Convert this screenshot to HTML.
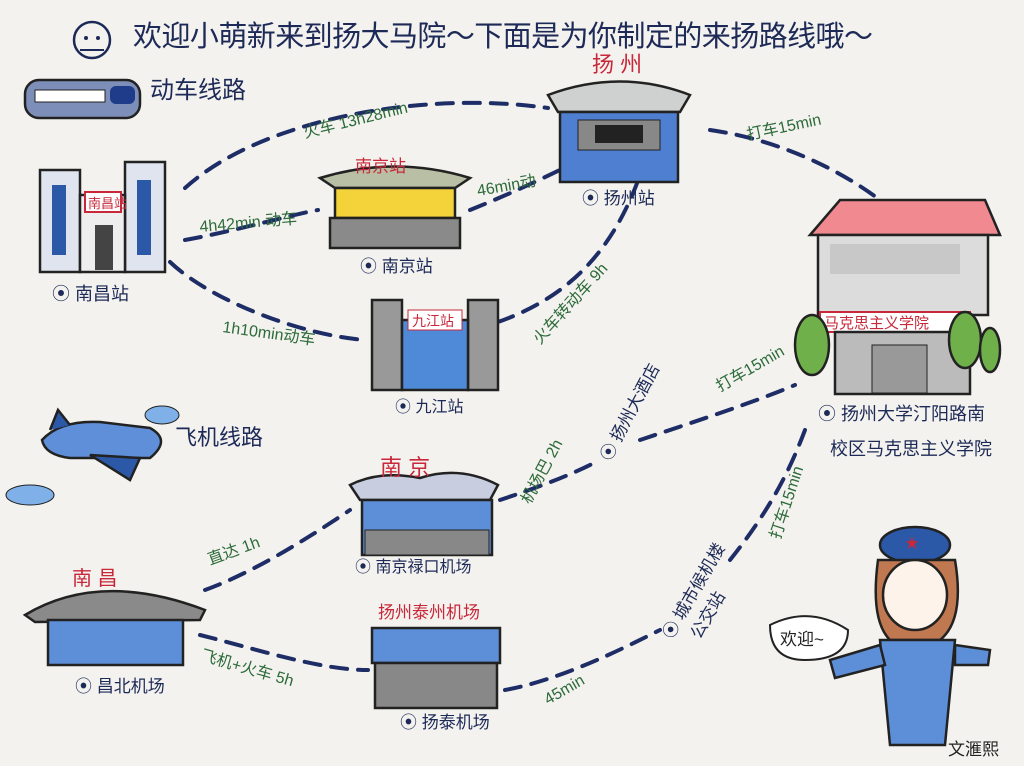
<!DOCTYPE html>
<html><head><meta charset="utf-8"><style>
html,body{margin:0;padding:0;background:#f3f2ee;}
svg{display:block}
text{font-family:"Liberation Sans","Noto Sans CJK SC",sans-serif;}
.t{fill:#1d2a57}
.g{fill:#2d6b3a}
.r{fill:#c8283a}
.d{stroke:#1e2d66;stroke-width:4;fill:none;stroke-dasharray:16 11;stroke-linecap:round}
.o{stroke:#222;stroke-width:2.5}
</style></head><body>
<svg width="1024" height="766" viewBox="0 0 1024 766" xmlns="http://www.w3.org/2000/svg">
<rect width="1024" height="766" fill="#f3f2ee"/>
<!-- title -->
<circle cx="92" cy="40" r="18" fill="none" stroke="#1d2a57" stroke-width="2.5"/>
<circle cx="86" cy="38" r="2" fill="#1d2a57"/><circle cx="98" cy="38" r="2" fill="#1d2a57"/>
<path d="M80 50 L104 50" stroke="#1d2a57" stroke-width="2"/>
<text x="133" y="46" font-size="29" class="t" textLength="740">欢迎小萌新来到扬大马院～下面是为你制定的来扬路线哦～</text>

<!-- dashed routes -->
<path class="d" d="M185 188 C260 120 420 90 548 108"/>
<path class="d" d="M185 240 C240 230 290 215 318 210"/>
<path class="d" d="M470 210 C520 190 560 170 580 160"/>
<path class="d" d="M170 262 C210 300 300 335 365 340"/>
<path class="d" d="M498 322 C560 300 610 260 640 175"/>
<path class="d" d="M710 130 C780 140 840 170 880 200"/>
<path class="d" d="M500 500 C560 480 580 470 600 460"/>
<path class="d" d="M640 440 C700 420 760 400 795 385"/>
<path class="d" d="M205 590 C260 570 320 530 350 510"/>
<path class="d" d="M200 635 C260 650 320 670 368 670"/>
<path class="d" d="M505 690 C560 680 620 650 660 630"/>
<path class="d" d="M730 560 C770 510 790 470 805 430"/>

<!-- train -->
<rect x="25" y="80" width="115" height="38" rx="14" fill="#7d8fb8" class="o"/>
<rect x="35" y="90" width="70" height="12" fill="#fff" stroke="#222"/>
<rect x="110" y="86" width="25" height="18" rx="6" fill="#1e3c8a"/>
<text x="150" y="98" font-size="24" class="t">动车线路</text>

<!-- Nanchang station -->
<rect x="40" y="170" width="40" height="102" fill="#dfe4ef" class="o"/>
<rect x="125" y="162" width="40" height="110" fill="#dfe4ef" class="o"/>
<rect x="52" y="185" width="14" height="70" fill="#2c58a8"/>
<rect x="137" y="180" width="14" height="75" fill="#2c58a8"/>
<rect x="80" y="195" width="45" height="77" fill="#eee" class="o"/>
<rect x="85" y="192" width="36" height="20" fill="#fff" stroke="#c8283a" stroke-width="2"/>
<text x="88" y="208" font-size="13" class="r">南昌站</text>
<rect x="95" y="225" width="18" height="45" fill="#444"/>
<text x="52" y="300" font-size="18" class="t">⦿ 南昌站</text>

<!-- Nanjing station -->
<path d="M320 178 Q395 155 470 178 L455 188 L335 188 Z" fill="#b9bfa4" class="o"/>
<rect x="335" y="188" width="120" height="30" fill="#f3d23a" class="o"/>
<rect x="330" y="218" width="130" height="30" fill="#8a8a8a" class="o"/>
<text x="355" y="172" font-size="17" class="r">南京站</text>
<text x="360" y="272" font-size="17" class="t">⦿ 南京站</text>

<!-- Yangzhou station -->
<path d="M548 95 Q620 68 690 95 L680 112 L558 112 Z" fill="#cfd0d0" class="o"/>
<text x="592" y="72" font-size="22" class="r">扬 州</text>
<rect x="560" y="112" width="118" height="70" fill="#4f7fd0" class="o"/>
<rect x="578" y="120" width="82" height="30" fill="#888" stroke="#222"/>
<rect x="595" y="125" width="48" height="18" fill="#222"/>
<text x="582" y="204" font-size="17" class="t">⦿ 扬州站</text>

<!-- Jiujiang station -->
<rect x="372" y="300" width="30" height="90" fill="#999" class="o"/>
<rect x="468" y="300" width="30" height="90" fill="#999" class="o"/>
<rect x="402" y="320" width="66" height="70" fill="#4f8ad8" class="o"/>
<rect x="408" y="310" width="54" height="20" fill="#fff" stroke="#c8283a"/>
<text x="412" y="326" font-size="14" class="r">九江站</text>
<text x="395" y="412" font-size="16" class="t">⦿ 九江站</text>

<!-- Marx school -->
<path d="M810 235 L840 200 L985 200 L1000 235 Z" fill="#f08a90" class="o"/>
<rect x="818" y="235" width="170" height="80" fill="#dcdcdc" class="o"/>
<rect x="830" y="244" width="130" height="30" fill="#c8c8c8"/>
<rect x="820" y="312" width="150" height="20" fill="#fff" stroke="#c8283a" stroke-width="2"/>
<text x="824" y="328" font-size="15" class="r">马克思主义学院</text>
<rect x="835" y="332" width="135" height="62" fill="#bbb" class="o"/>
<rect x="872" y="345" width="55" height="48" fill="#999" stroke="#222"/>
<ellipse cx="812" cy="345" rx="17" ry="30" fill="#6fb04a" class="o"/>
<ellipse cx="965" cy="340" rx="16" ry="28" fill="#6fb04a" class="o"/>
<ellipse cx="990" cy="350" rx="10" ry="22" fill="#6fb04a" class="o"/>
<text x="818" y="420" font-size="18" class="t">⦿ 扬州大学汀阳路南</text>
<text x="830" y="455" font-size="18" class="t">校区马克思主义学院</text>

<!-- plane -->
<path d="M42 440 Q60 420 100 422 L150 428 Q172 440 150 458 L70 458 Q45 455 42 440 Z" fill="#5f8fd8" class="o"/>
<path d="M90 455 L130 480 L140 458 Z" fill="#2c58a8" class="o"/>
<path d="M50 430 L58 410 L70 425" fill="#2c58a8" class="o"/>
<ellipse cx="162" cy="415" rx="17" ry="9" fill="#7fb0e8" stroke="#222"/>
<ellipse cx="30" cy="495" rx="24" ry="10" fill="#7fb0e8" stroke="#222"/>
<text x="175" y="445" font-size="22" class="t">飞机线路</text>

<!-- Nanjing airport -->
<path d="M350 485 Q380 470 420 478 Q460 465 498 485 L490 500 L360 500 Z" fill="#c8cde0" class="o"/>
<text x="380" y="475" font-size="22" class="r">南   京</text>
<rect x="362" y="500" width="130" height="55" fill="#5d8ed8" class="o"/>
<rect x="365" y="530" width="124" height="25" fill="#888" stroke="#222"/>
<text x="355" y="572" font-size="16" class="t">⦿ 南京禄口机场</text>

<!-- Nanchang airport -->
<path d="M25 615 Q100 570 205 610 L200 620 L35 622 Z" fill="#8a8a8a" class="o"/>
<rect x="48" y="620" width="135" height="45" fill="#5d8ed8" class="o"/>
<text x="72" y="585" font-size="20" class="r">南   昌</text>
<text x="75" y="692" font-size="17" class="t">⦿ 昌北机场</text>

<!-- Yangtai airport -->
<text x="378" y="618" font-size="17" class="r">扬州泰州机场</text>
<rect x="372" y="628" width="128" height="35" fill="#5d8ed8" class="o"/>
<rect x="375" y="663" width="122" height="45" fill="#888" class="o"/>
<text x="400" y="728" font-size="17" class="t">⦿ 扬泰机场</text>

<!-- girl -->
<ellipse cx="915" cy="545" rx="35" ry="18" fill="#2c58a8" class="o"/>
<text x="905" y="548" font-size="14" fill="#c8283a">★</text>
<path d="M878 560 Q870 620 890 640 L940 640 Q965 620 955 560 Z" fill="#c07850" class="o"/>
<ellipse cx="915" cy="595" rx="32" ry="35" fill="#fdf3ea" class="o"/>
<path d="M880 640 L955 640 L945 745 L890 745 Z" fill="#5d8ed8" class="o"/>
<path d="M830 660 L880 645 L885 665 L835 678 Z" fill="#5d8ed8" class="o"/>
<path d="M955 645 L990 650 L988 665 L955 665 Z" fill="#5d8ed8" class="o"/>
<path d="M770 625 Q810 605 848 630 Q848 660 805 660 Q770 660 770 625 Z" fill="#fff" stroke="#222" stroke-width="2"/>
<text x="780" y="645" font-size="17" fill="#222">欢迎~</text>
<text x="948" y="755" font-size="17" fill="#222">文滙熙</text>

<!-- green labels -->
<g class="g" font-size="16">
<text transform="translate(305,138) rotate(-14)">火车 13h28min</text>
<text transform="translate(200,232) rotate(-5)">4h42min 动车</text>
<text transform="translate(478,196) rotate(-10)">46min动</text>
<text transform="translate(748,140) rotate(-12)">打车15min</text>
<text transform="translate(222,332) rotate(8)">1h10min动车</text>
<text transform="translate(540,345) rotate(-48)">火车转动车 9h</text>
<text transform="translate(530,505) rotate(-62)">机场巴 2h</text>
<text transform="translate(720,392) rotate(-30)">打车15min</text>
<text transform="translate(210,565) rotate(-20)">直达 1h</text>
<text transform="translate(780,540) rotate(-72)">打车15min</text>
<text transform="translate(200,660) rotate(16)">飞机+火车 5h</text>
<text transform="translate(548,705) rotate(-30)">45min</text>
</g>
<g class="t" font-size="17">
<text transform="translate(610,462) rotate(-62)">⦿ 扬州大酒店</text>
<text transform="translate(672,640) rotate(-60)">⦿ 城市候机楼</text>
<text transform="translate(700,640) rotate(-60)">公交站</text>
</g>
</svg>
</body></html>
